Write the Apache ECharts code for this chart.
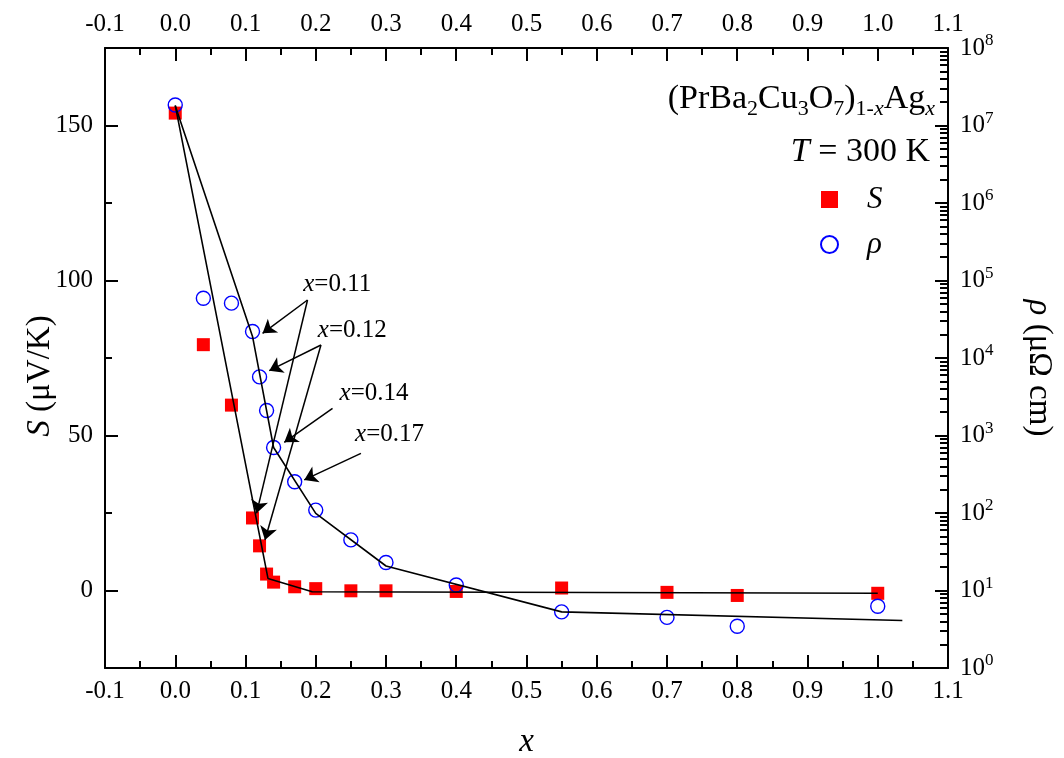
<!DOCTYPE html>
<html>
<head>
<meta charset="utf-8">
<script src="https://cdn.jsdelivr.net/npm/echarts@6/dist/echarts.min.js"></script>
<style>
  html, body { margin: 0; padding: 0; background: #fff; }
  #chart { width: 1064px; height: 758px; }
</style>
</head>
<body>
<div id="chart"></div>
<script>
const FONT = 'Liberation Serif';

// Ag content x of each sample
const xSamples = [0, 0.04, 0.08, 0.11, 0.12, 0.13, 0.14, 0.17, 0.2, 0.25, 0.3, 0.4, 0.55, 0.7, 0.8, 1.0];
// Thermopower S (μV/K) at 300 K
const seebeck = [154, 79.3, 59.8, 23.4, 14.4, 5.3, 2.7, 1.2, 0.6, -0.1, -0.1, -0.3, 0.8, -0.6, -1.6, -0.9];
// Resistivity ρ (μΩ cm) at 300 K
const resistivity = [1.84e7, 5.9e4, 5.1e4, 2.2e4, 5.7e3, 2.1e3, 700, 253, 109, 45, 23, 11.8, 5.3, 4.5, 3.45, 6.25];

// Guide-to-the-eye polylines
const sGuideX = [0, 0.132, 0.195, 1.0];
const sGuideY = [156.5, 3.9, -0.4, -0.9];
const rhoGuideX = [0, 0.11, 0.14, 0.2, 0.3, 0.55, 1.035];
const rhoGuideY = [1.8e7, 1.9e4, 700, 99, 20.7, 5.3, 4.1];

// Axis tick values
const sMajorTicks = [0, 50, 100, 150];
const sMinorTicks = [25, 75, 125];
const rhoMinorMantissas = [2, 3, 4, 5, 6, 7, 8, 9];

// Composition callouts: label anchor on the S axis, arrows to the S / ρ points
const calloutText = ['0.11', '0.12', '0.14', '0.17'];
const calloutAt = [[0.2306, 98.6], [0.252, 84.0], [0.283, 63.7], [0.305, 50.2]];
const sArrows = [
  [[0.1883, 93.7], [0.1157, 24.9]],
  [[0.2074, 79.2], [0.1277, 16.3]]
];
const rhoArrows = [
  [[0.1883, 5.6e4], [0.1243, 2.08e4]],
  [[0.2074, 1.47e4], [0.1338, 6.86e3]],
  [[0.2239, 2244], [0.1552, 817]],
  [[0.2643, 589], [0.1836, 267]]
];

const BLACK = '#000';
const axisLineStyle = { color: BLACK, width: 2 };
const tickLineStyle = { color: BLACK, width: 2 };

// minor decade positions for the log axis, expressed as exponents
const rhoMinorExponents = [];
for (let d = 0; d < 8; d++) {
  rhoMinorMantissas.forEach(m => rhoMinorExponents.push(d + Math.log10(m)));
}

function xAxisDef(pos) {
  return {
    type: 'value',
    position: pos,
    min: -0.1,
    max: 1.1,
    interval: 0.1,
    name: pos === 'bottom' ? 'x' : '',
    nameLocation: 'middle',
    nameGap: 58,
    nameTextStyle: { fontFamily: FONT, fontStyle: 'italic', fontSize: 33, color: BLACK },
    axisLine: { show: true, onZero: false, lineStyle: axisLineStyle },
    axisTick: { show: true, inside: true, length: 13, lineStyle: tickLineStyle },
    minorTick: { show: true, splitNumber: 2, length: 7, lineStyle: tickLineStyle },
    axisLabel: {
      color: BLACK, fontFamily: FONT, fontSize: 25, margin: 11,
      showMinLabel: true, showMaxLabel: true,
      formatter: v => v.toFixed(1)
    },
    splitLine: { show: false },
    minorSplitLine: { show: false }
  };
}

const chart = echarts.init(document.getElementById('chart'), null, { renderer: 'canvas' });

const option = {
  animation: false,
  backgroundColor: '#fff',
  textStyle: { fontFamily: FONT },
  grid: { left: 105, right: 116, top: 48, bottom: 90, outerBoundsMode: 'none', containLabel: false },
  legend: {
    data: ['S', 'ρ'],
    orient: 'vertical',
    left: 815,
    top: 179,
    itemWidth: 17,
    itemHeight: 17,
    itemGap: 14,
    selectedMode: false,
    textStyle: {
      fontFamily: FONT, fontStyle: 'italic', fontSize: 31, color: BLACK,
      lineHeight: 30, padding: [0, 0, 0, 24]
    }
  },
  xAxis: [xAxisDef('bottom'), xAxisDef('top')],
  yAxis: [
    {
      type: 'value',
      position: 'left',
      min: -25,
      max: 175,
      name: '{i|S} (μV/K)',
      nameLocation: 'middle',
      nameMoveOverlap: false,
      nameGap: 48,
      nameTextStyle: {
        fontFamily: FONT, fontSize: 33, color: BLACK, padding: [0, 36, 0, 0],
        rich: { i: { fontFamily: FONT, fontStyle: 'italic', fontSize: 33, color: BLACK } }
      },
      axisLine: { show: true, onZero: false, lineStyle: axisLineStyle },
      axisTick: { show: true, inside: true, length: 13, customValues: sMajorTicks, lineStyle: tickLineStyle },
      axisLabel: { customValues: sMajorTicks, color: BLACK, fontFamily: FONT, fontSize: 25, margin: 12 },
      splitLine: { show: false }
    },
    {
      type: 'log',
      logBase: 10,
      position: 'right',
      min: 1,
      max: 1e8,
      splitNumber: 8,
      name: '{i|ρ} (μΩ cm)',
      nameLocation: 'middle',
      nameMoveOverlap: false,
      nameRotate: -90,
      nameGap: 74,
      nameTextStyle: {
        fontFamily: FONT, fontSize: 33, color: BLACK, padding: [0, 0, 0, 20],
        rich: { i: { fontFamily: FONT, fontStyle: 'italic', fontSize: 33, color: BLACK } }
      },
      axisLine: { show: true, onZero: false, lineStyle: axisLineStyle },
      axisTick: { show: true, inside: true, length: 13, lineStyle: tickLineStyle },
      axisLabel: {
        color: BLACK, fontFamily: FONT, fontSize: 25, margin: 12,
        formatter: v => '10{sup|' + Math.round(Math.log10(v)) + '}',
        rich: { sup: { fontFamily: FONT, fontSize: 17, color: BLACK, padding: [0, 0, 14, 0] } }
      },
      splitLine: { show: false }
    },
    {
      // short ticks between the labelled S ticks
      type: 'value',
      position: 'left',
      min: -25,
      max: 175,
      axisLine: { show: false, onZero: false },
      axisTick: { show: true, inside: true, length: 7, customValues: sMinorTicks, lineStyle: tickLineStyle },
      axisLabel: { show: false },
      splitLine: { show: false }
    },
    {
      // 2..9 sub-decade ticks of the ρ axis (exponent scale 0..8)
      type: 'value',
      position: 'right',
      min: 0,
      max: 8,
      axisLine: { show: false, onZero: false },
      axisTick: { show: true, inside: true, length: 8, customValues: rhoMinorExponents, lineStyle: tickLineStyle },
      axisLabel: { show: false },
      splitLine: { show: false }
    }
  ],
  series: [
    {
      name: 'S',
      type: 'scatter',
      xAxisIndex: 0,
      yAxisIndex: 0,
      data: xSamples.map((x, i) => [x, seebeck[i]]),
      symbol: 'rect',
      symbolSize: 13,
      itemStyle: { color: '#ff0000', opacity: 1 },
      z: 2
    },
    {
      name: 'ρ',
      type: 'scatter',
      xAxisIndex: 0,
      yAxisIndex: 1,
      data: xSamples.map((x, i) => [x, resistivity[i]]),
      symbol: 'circle',
      symbolSize: 14,
      itemStyle: { color: 'rgba(0,0,0,0)', borderColor: '#0000ff', borderWidth: 1.4, opacity: 1 },
      z: 3
    },
    {
      type: 'line',
      xAxisIndex: 0,
      yAxisIndex: 0,
      data: sGuideX.map((x, i) => [x, sGuideY[i]]),
      symbol: 'none',
      lineStyle: { color: BLACK, width: 1.6 },
      z: 4,
      markLine: {
        silent: true,
        symbol: ['none', 'arrow'],
        symbolSize: 13,
        lineStyle: { color: BLACK, width: 1.5, type: 'solid' },
        label: { show: false },
        data: sArrows.map(a => [{ coord: a[0] }, { coord: a[1] }])
      }
    },
    {
      type: 'line',
      xAxisIndex: 0,
      yAxisIndex: 1,
      data: rhoGuideX.map((x, i) => [x, rhoGuideY[i]]),
      symbol: 'none',
      lineStyle: { color: BLACK, width: 1.6 },
      z: 4,
      markLine: {
        silent: true,
        symbol: ['none', 'arrow'],
        symbolSize: 13,
        lineStyle: { color: BLACK, width: 1.5, type: 'solid' },
        label: { show: false },
        data: rhoArrows.map(a => [{ coord: a[0] }, { coord: a[1] }])
      }
    }
  ]
};

chart.setOption(option);

// Text overlays: composition callouts placed in data space, sample/temperature headings
const graphics = calloutText.map((t, i) => {
  const p = chart.convertToPixel({ xAxisIndex: 0, yAxisIndex: 0 }, calloutAt[i]);
  return {
    type: 'text',
    x: p[0],
    y: p[1],
    z: 10,
    style: {
      text: '{i|x}=' + t,
      align: 'center',
      verticalAlign: 'middle',
      fontFamily: FONT,
      fontSize: 25,
      fill: BLACK,
      rich: { i: { fontFamily: FONT, fontStyle: 'italic', fontSize: 25, fill: BLACK } }
    }
  };
});

graphics.push({
  type: 'text',
  x: 935,
  y: 99,
  z: 10,
  style: {
    text: '(PrBa{s|2}Cu{s|3}O{s|7}){s|1-}{si|x}Ag{si|x}',
    align: 'right',
    verticalAlign: 'middle',
    fontFamily: FONT,
    fontSize: 34,
    fill: BLACK,
    rich: {
      s: { fontFamily: FONT, fontSize: 22, fill: BLACK, padding: [20, 0, 0, 0] },
      si: { fontFamily: FONT, fontSize: 22, fontStyle: 'italic', fill: BLACK, padding: [20, 0, 0, 0] }
    }
  }
});

graphics.push({
  type: 'text',
  x: 930,
  y: 152,
  z: 10,
  style: {
    text: '{i|T} = 300 K',
    align: 'right',
    verticalAlign: 'middle',
    fontFamily: FONT,
    fontSize: 34,
    fill: BLACK,
    rich: { i: { fontFamily: FONT, fontStyle: 'italic', fontSize: 34, fill: BLACK } }
  }
});

chart.setOption({ graphic: graphics });
</script>
</body>
</html>
